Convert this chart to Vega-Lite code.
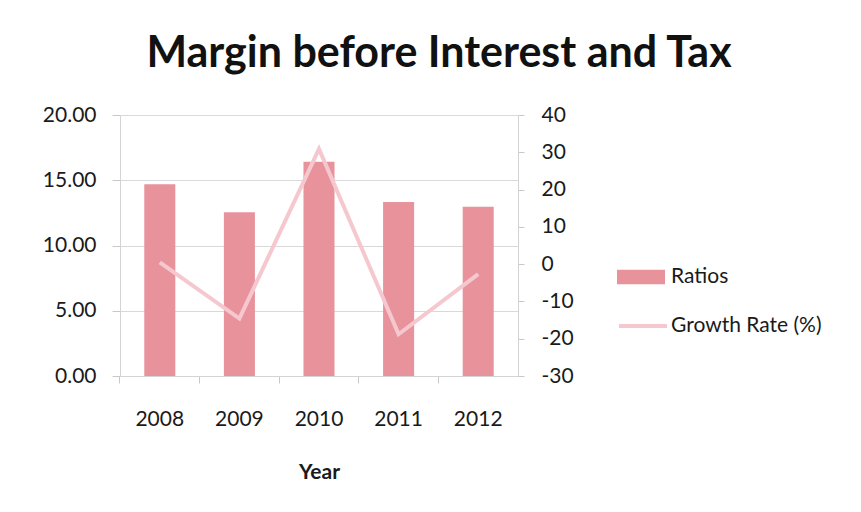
{
  "$schema": "https://vega.github.io/schema/vega-lite/v6.json",
  "width": 398,
  "height": 261,
  "autosize": {"type": "none"},
  "padding": {"left": 120, "top": 115, "right": 343, "bottom": 136},
  "background": "white",
  "config": {
    "font": "Lato",
    "view": {"stroke": null},
    "axis": {
      "labelFont": "Lato",
      "labelFontSize": 21,
      "labelColor": "#1a1a1a",
      "domainColor": "#d4d4d4",
      "tickColor": "#c8c8c8",
      "gridColor": "#d9d9d9",
      "titleFont": "Lato",
      "titleColor": "#1a1a1a"
    },
    "legend": {"labelFont": "Lato", "labelFontSize": 21, "labelColor": "#1a1a1a", "padding": 0}
  },
  "title": {
    "text": "Margin before Interest and Tax",
    "font": "Lato",
    "fontSize": 43,
    "fontWeight": "bold",
    "color": "#111111",
    "anchor": "middle",
    "dx": 120,
    "offset": 28
  },
  "data": {
    "values": [
      {"Year": "2008", "Ratios": 14.7, "Growth": 0.5},
      {"Year": "2009", "Ratios": 12.54, "Growth": -14.6},
      {"Year": "2010", "Ratios": 16.42, "Growth": 30.9},
      {"Year": "2011", "Ratios": 13.33, "Growth": -18.8},
      {"Year": "2012", "Ratios": 12.97, "Growth": -2.7}
    ]
  },
  "layer": [
    {
      "mark": {"type": "bar"},
      "encoding": {
        "x": {
          "field": "Year",
          "type": "ordinal",
          "scale": {"paddingInner": 0.61, "paddingOuter": 0.305},
          "axis": {
            "title": "Year",
            "titleFontSize": 21,
            "titleFontWeight": "bold",
            "titlePadding": 32,
            "labelAngle": 0,
            "labelPadding": 25,
            "tickSize": 7,
            "bandPosition": -0.784,
            "labelOffset": 0
          }
        },
        "y": {
          "field": "Ratios",
          "type": "quantitative",
          "scale": {"domain": [0, 20]},
          "axis": {
            "title": null,
            "values": [0, 5, 10, 15, 20],
            "format": ".2f",
            "tickSize": 8,
            "labelPadding": 16,
            "grid": true
          }
        },
        "fill": {
          "datum": "Ratios",
          "type": "nominal",
          "scale": {"range": ["#E8939C"]},
          "legend": {
            "title": null,
            "orient": "none",
            "legendX": 497,
            "legendY": 138,
            "symbolType": "M-1,-0.3H1V0.3H-1Z",
            "symbolSize": 2304,
            "symbolStrokeWidth": 0,
            "labelOffset": 6
          }
        }
      }
    },
    {
      "mark": {"type": "line", "strokeWidth": 4},
      "encoding": {
        "x": {"field": "Year", "type": "ordinal"},
        "y": {
          "field": "Growth",
          "type": "quantitative",
          "scale": {"domain": [-30, 40]},
          "axis": {
            "orient": "right",
            "title": null,
            "values": [-30, -20, -10, 0, 10, 20, 30, 40],
            "labelExpr": "replace('' + datum.value, '\u2212', '-')",
            "tickSize": 6,
            "labelPadding": 17,
            "grid": false
          }
        },
        "stroke": {
          "datum": "Growth Rate (%)",
          "type": "nominal",
          "scale": {"range": ["#F5C8CF"]},
          "legend": {
            "title": null,
            "orient": "none",
            "legendX": 497,
            "legendY": 185,
            "symbolType": "stroke",
            "symbolSize": 2304,
            "symbolStrokeWidth": 4,
            "labelOffset": 2
          }
        }
      }
    }
  ],
  "resolve": {"scale": {"y": "independent", "fill": "independent", "stroke": "independent"}}
}
